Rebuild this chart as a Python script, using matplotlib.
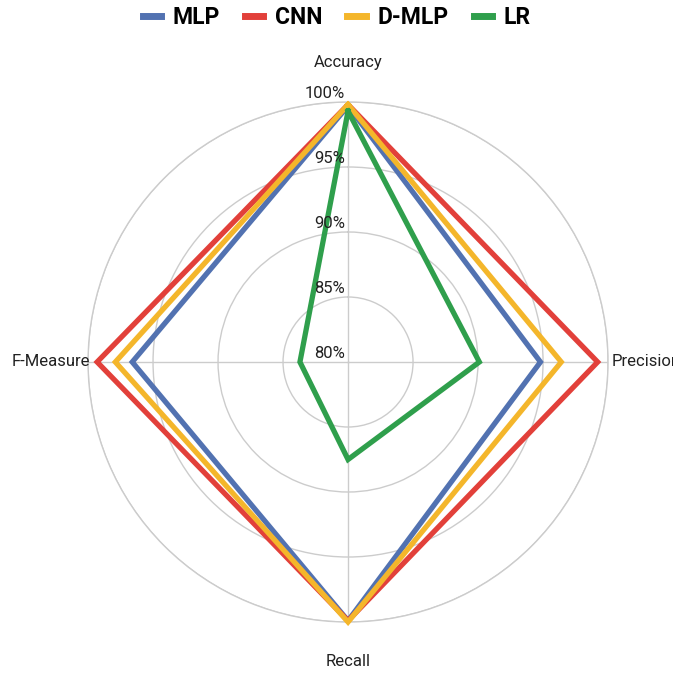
import numpy as np
import matplotlib.pyplot as plt

plt.rcParams['font.family'] = ['Roboto', 'DejaVu Sans']

metrics = ['Accuracy', 'Precision', 'Recall', 'F-Measure']
models = ['MLP', 'CNN', 'D-MLP', 'LR']
mlp = [99.7, 94.8, 99.9, 96.6]
cnn = [99.8, 99.2, 99.9, 99.3]
dmlp = [99.8, 96.4, 100.0, 97.9]
lr = [99.3, 90.1, 87.5, 83.7]
colors = ['#5272b1', '#e2403a', '#f4b62b', '#2f9f4c']
ring_vals = [80, 85, 90, 95, 100]
ring_labels = ['80%', '85%', '90%', '95%', '100%']

fig = plt.figure(figsize=(6.73, 6.75), dpi=100)
ax = fig.add_axes([0.1308, 0.0785, 0.7727, 0.7704], projection='polar')
ax.set_theta_zero_location('N')
ax.set_theta_direction(-1)

angles = np.deg2rad([0, 90, 180, 270])
closed = np.append(angles, angles[0])

for i, vals in enumerate([mlp, cnn, dmlp, lr]):
    v = np.append(vals, vals[0])
    ax.plot(closed, v, color=colors[i], lw=3.8, label=models[i],
            zorder=3 + i, clip_on=False, solid_joinstyle='miter')

ax.set_ylim(80, 100)
ax.set_yticks(ring_vals)
ax.set_yticklabels([])
ax.set_xticks(angles)
ax.set_xticklabels([])
ax.grid(color='#cccccc', lw=1)
ax.spines['polar'].set_color('#cccccc')
ax.spines['polar'].set_linewidth(1)

# ring labels just above each circle, left of the vertical spoke
for r, lab in zip(ring_vals, ring_labels):
    ax.annotate(lab, xy=(0, r), xytext=(-2, 1), textcoords='offset points',
                ha='right', va='bottom', fontsize=12, color='#222222', zorder=10)

# axis names
fig.text(348 / 673, 1 - 63 / 675, metrics[0], ha='center', va='center',
         fontsize=12, color='#222222')
fig.text(612 / 673, 1 - 362 / 675, metrics[1], ha='left', va='center',
         fontsize=12, color='#222222')
fig.text(348 / 673, 1 - 661 / 675, metrics[2], ha='center', va='center',
         fontsize=12, color='#222222')
fig.text(90 / 673, 1 - 362 / 675, metrics[3], ha='right', va='center',
         fontsize=12, color='#222222')

handles, labels = ax.get_legend_handles_labels()
leg = fig.legend(handles, labels, loc='center', bbox_to_anchor=(0.5, 1 - 18 / 675),
                 ncol=4, frameon=False, handlelength=0.8, handletextpad=0.5,
                 columnspacing=1.1, prop={'weight': 'bold', 'size': 16.5})
for h in leg.get_lines():
    h.set_linewidth(5)

fig.savefig('out.png', dpi=100)
